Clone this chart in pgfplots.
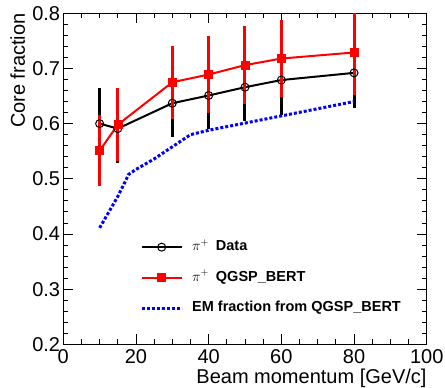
\documentclass[border=0pt]{standalone}
\usepackage{fontspec}
\setmainfont{Liberation Sans}
\usepackage{pgfplots}
\pgfplotsset{compat=1.18}
\begin{document}
\begin{tikzpicture}
\begin{axis}[
 scale only axis, width=363.4pt, height=331pt,
 xmin=0, xmax=100, ymin=0.2, ymax=0.8,
 xtick={0,20,...,100}, ytick={0.2,0.3,...,0.8},
 minor x tick num=3, minor y tick num=4,
 tick align=inside, major tick length=10pt, minor tick length=5pt,
 axis line style={line width=1pt},
 every tick/.style={black, line width=0.8pt},
 /pgf/number format/assume math mode=true,
 tick label style={font=\fontsize{20}{24}\selectfont},
 yticklabel style={/pgf/number format/fixed,/pgf/number format/fixed zerofill,/pgf/number format/precision=1, inner sep=0pt, xshift=-3pt},
 xticklabel style={inner sep=0pt, yshift=-5pt},
 xlabel={Beam momentum [GeV/c]}, ylabel={Core fraction},
 label style={font=\fontsize{20}{24}\selectfont},
 xlabel style={at={(axis description cs:1,0)}, anchor=base east, inner sep=0pt, yshift=-39.7pt},
 ylabel style={at={(axis description cs:-0.1054,1)}, anchor=base east, inner sep=0pt},
 legend cell align=left,
 legend image code/.code={\draw[mark repeat=2,mark phase=2,#1] plot coordinates {(0pt,0pt) (20pt,0pt) (40pt,0pt)};},
 legend style={draw=none, fill=none, inner sep=0pt, at={(axis cs:21.1,0.3882)}, anchor=north west,
   font=\bfseries\fontsize{14.5}{17}\selectfont, row sep=17.5pt, column sep=9pt,
   nodes={inner sep=0pt, text height=10pt, text depth=3pt}},
]
\coordinate (O) at (rel axis cs:0,0);
\addplot[black, line width=2pt, mark=o, mark size=4pt, mark options={line width=1pt, solid},
  error bars/.cd, y dir=both, y explicit, error mark=none, error bar style={line width=3pt, black}]
  coordinates {
  (10,0.600) +- (0,0.064)
  (15,0.591) +- (0,0.062)
  (30,0.637) +- (0,0.061)
  (40,0.651) +- (0,0.061)
  (50,0.666) +- (0,0.062)
  (60,0.679) +- (0,0.063)
  (80,0.692) +- (0,0.064)
  };
\addlegendentry{$\pi^{+}$\hspace{7pt}Data}
\addplot[red, line width=2pt, mark=square*, mark size=4pt, mark options={line width=0.5pt, solid},
  error bars/.cd, y dir=both, y explicit, error mark=none, error bar style={line width=3pt, red}]
  coordinates {
  (10,0.551) +- (0,0.064)
  (15,0.598) +- (0,0.066)
  (30,0.675) +- (0,0.066)
  (40,0.689) +- (0,0.069)
  (50,0.706) +- (0,0.071)
  (60,0.718) +- (0,0.070)
  (80,0.729) +- (0,0.077)
  };
\addlegendentry{$\pi^{+}$\hspace{7pt}QGSP\_BERT}
\addplot[blue, line width=3pt, dash pattern=on 3pt off 2pt]
  coordinates {
  (10,0.411) (15,0.468) (18,0.508) (20,0.517) (25,0.536) (30,0.558)
  (35,0.580) (40,0.588) (50,0.601) (60,0.614) (80,0.640)
  };
\addlegendentry{EM fraction from QGSP\_BERT}
\end{axis}
\pgfresetboundingbox
\path[use as bounding box] ([shift={(-63.3pt,-43.7pt)}]O) rectangle ++(445pt,388pt);
\end{tikzpicture}
\end{document}
